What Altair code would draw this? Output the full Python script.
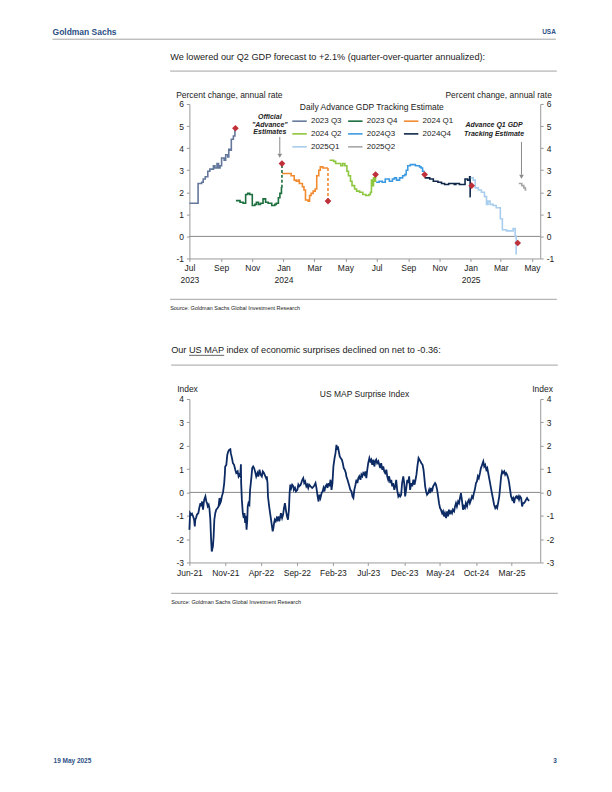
import altair as alt
import pandas as pd

FONT = "Liberation Sans"
INK = "#222222"
RULE = "#a3a3a3"
AXIS = "#9a9a9a"
BRAND = "#2b4f85"

# ---------------- Chart 1: Daily Advance GDP Tracking Estimate ----------------
series_names = ["2023 Q3", "2023 Q4", "2024 Q1", "2024 Q2", "2024Q3", "2024Q4", "2025Q1", "2025Q2"]
series_colors = ["#64789b", "#1b6e3d", "#f28a30", "#8dc63f", "#3b9ae1", "#0f2748", "#a9cdee", "#a6a6a6"]

q3_2023_dates = ["2023-07-01", "2023-07-18", "2023-07-25", "2023-07-28", "2023-08-01", "2023-08-06",
                 "2023-08-10", "2023-08-17", "2023-08-20", "2023-08-24", "2023-08-27", "2023-08-30",
                 "2023-09-02", "2023-09-07", "2023-09-10", "2023-09-14", "2023-09-16", "2023-09-18",
                 "2023-09-21", "2023-09-25", "2023-09-28", "2023-09-29"]
q3_2023_vals = [1.5, 2.4, 2.45, 2.6, 2.7, 2.95, 3.05, 3.2, 3.1, 3.3, 3.1, 3.2, 3.55, 3.45, 3.7, 3.6,
                3.95, 3.9, 4.4, 4.55, 4.8, 4.8]

q4_2023_dates = ["2023-09-30", "2023-10-08", "2023-10-14", "2023-10-19", "2023-10-23", "2023-10-27",
                 "2023-11-01", "2023-11-06", "2023-11-09", "2023-11-13", "2023-11-17", "2023-11-22",
                 "2023-11-27", "2023-12-02", "2023-12-09", "2023-12-15", "2023-12-18", "2023-12-22",
                 "2023-12-25", "2023-12-28", "2023-12-29"]
q4_2023_vals = [1.62, 1.55, 1.5, 1.9, 1.95, 1.9, 1.4, 1.45, 1.55, 1.45, 1.5, 1.7, 1.55, 1.5, 1.4, 1.45,
                1.5, 1.75, 1.95, 2.2, 2.2]

q1_2024_dates = ["2023-12-29", "2024-01-16", "2024-01-22", "2024-01-26", "2024-01-30", "2024-02-01",
                 "2024-02-07", "2024-02-10", "2024-02-13", "2024-02-18", "2024-02-21", "2024-02-24",
                 "2024-02-28", "2024-03-03", "2024-03-06", "2024-03-10", "2024-03-13", "2024-03-18",
                 "2024-03-28"]
q1_2024_vals = [2.85, 2.75, 2.55, 2.5, 2.55, 2.4, 2.25, 2.1, 1.65, 1.6, 1.85, 1.95, 2.05, 2.15, 2.75,
                3.0, 3.15, 3.1, 3.1]

q2_2024_dates = ["2024-03-31", "2024-04-08", "2024-04-12", "2024-04-18", "2024-04-22", "2024-04-26",
                 "2024-04-30", "2024-05-04", "2024-05-07", "2024-05-11", "2024-05-14", "2024-05-19",
                 "2024-05-23", "2024-05-29", "2024-06-04", "2024-06-10", "2024-06-16", "2024-06-19",
                 "2024-06-21", "2024-06-23", "2024-06-25", "2024-06-27", "2024-06-29", "2024-06-30"]
q2_2024_vals = [3.45, 3.4, 3.3, 3.3, 3.2, 3.3, 3.2, 2.95, 2.75, 2.5, 2.3, 2.15, 2.05, 2.0, 1.9, 1.85,
                1.9, 2.0, 2.55, 2.3, 2.65, 2.5, 2.7, 2.7]

q3_2024_dates = ["2024-06-30", "2024-07-06", "2024-07-12", "2024-07-18", "2024-07-26", "2024-08-01",
                 "2024-08-05", "2024-08-09", "2024-08-15", "2024-08-21", "2024-08-25", "2024-08-28",
                 "2024-08-31", "2024-09-05", "2024-09-10", "2024-09-15", "2024-09-20", "2024-09-23",
                 "2024-09-26", "2024-09-29", "2024-10-03"]
q3_2024_vals = [2.45, 2.5, 2.45, 2.6, 2.5, 2.6, 2.65, 2.55, 2.65, 2.75, 2.8, 3.0, 3.2, 3.25, 3.25, 3.2,
                3.2, 3.15, 3.1, 2.95, 2.95]

q4_2024_dates = ["2024-10-03", "2024-10-13", "2024-10-20", "2024-10-29", "2024-11-05", "2024-11-11",
                 "2024-11-19", "2024-11-24", "2024-11-30", "2024-12-03", "2024-12-10", "2024-12-16",
                 "2024-12-21", "2024-12-26", "2024-12-30", "2024-12-31", "2025-01-01"]
q4_2024_vals = [2.65, 2.6, 2.5, 2.45, 2.4, 2.35, 2.4, 2.4, 2.35, 2.4, 2.35, 2.35, 2.6, 2.55, 2.7, 1.8, 1.8]

q1_2025_dates = ["2025-01-01", "2025-01-06", "2025-01-10", "2025-01-16", "2025-01-22", "2025-01-28",
                 "2025-02-01", "2025-02-04", "2025-02-08", "2025-02-14", "2025-02-20", "2025-02-26",
                 "2025-02-28", "2025-03-04", "2025-03-12", "2025-03-22", "2025-03-25", "2025-03-29",
                 "2025-03-31", "2025-04-01"]
q1_2025_vals = [2.65, 2.55, 2.2, 2.1, 2.0, 1.8, 1.45, 1.6, 1.45, 1.4, 1.3, 1.3, 0.8, 0.3, 0.25, 0.25,
                0.35, 0.0, -0.8, -0.8]

q2_2025_dates = ["2025-04-05", "2025-04-09", "2025-04-11", "2025-04-15", "2025-04-18", "2025-04-20"]
q2_2025_vals = [2.4, 2.4, 2.3, 2.2, 2.1, 2.1]

series_dates = [q3_2023_dates, q4_2023_dates, q1_2024_dates, q2_2024_dates,
                q3_2024_dates, q4_2024_dates, q1_2025_dates, q2_2025_dates]
series_values = [q3_2023_vals, q4_2023_vals, q1_2024_vals, q2_2024_vals,
                 q3_2024_vals, q4_2024_vals, q1_2025_vals, q2_2025_vals]

official_dates = ["2023-09-29", "2023-12-29", "2024-03-28", "2024-06-29", "2024-10-03", "2025-01-03", "2025-04-03"]
official_values = [4.9, 3.3, 1.6, 2.8, 2.8, 2.3, -0.3]

connector_dates = ["2023-12-29", "2024-03-28"]
connector_series = ["2023 Q4", "2024 Q1"]
connector_from = [2.2, 3.1]
connector_to = [3.3, 1.6]

y1_ticks = [-1, 0, 1, 2, 3, 4, 5, 6]
x1_ticks = [(2023, 7), (2023, 9), (2023, 11), (2024, 1), (2024, 3), (2024, 5), (2024, 7),
            (2024, 9), (2024, 11), (2025, 1), (2025, 3), (2025, 5)]

# ---------------- Chart 2: US MAP Surprise Index ----------------
# x: days since 2021-06-01
map_day = [0, 3, 7, 11, 16, 20, 23, 25, 28, 32,
           38, 42, 47, 49, 54, 58, 61, 63, 68, 72,
           75, 78, 82, 85, 89, 92, 95, 97, 100, 103,
           106, 110, 114, 120, 124, 128, 131, 134, 138, 143,
           148, 151, 152, 157, 161, 165, 169, 174, 176, 181,
           185, 190, 195, 199, 205, 209, 213, 216, 219, 220,
           223, 227, 231, 234, 237, 240, 243, 246, 248, 251,
           255, 258, 261, 264, 267, 271, 275, 279, 284, 289,
           293, 298, 303, 308, 312, 317, 322, 326, 329, 332,
           334, 339, 343, 347, 351, 354, 357, 360, 363, 367,
           371, 374, 378, 382, 385, 389, 394, 398, 402, 406,
           411, 415, 419, 423, 426, 429, 433, 437, 442, 444,
           449, 453, 459, 463, 467, 473, 480, 484, 488, 492,
           497, 501, 505, 509, 515, 522, 529, 536, 540, 545,
           549, 553, 557, 562, 566, 570, 574, 578, 583, 587,
           591, 595, 600, 604, 608, 612, 614, 617, 621, 625,
           628, 631, 635, 639, 643, 648, 652, 656, 660, 665,
           667, 672, 676, 680, 684, 689, 693, 697, 701, 706,
           710, 714, 718, 722, 727, 731, 735, 739, 744, 748,
           752, 756, 760, 765, 769, 773, 777, 782, 786, 790,
           794, 798, 803, 807, 811, 815, 820, 824, 828, 832,
           837, 841, 845, 849, 854, 858, 862, 866, 871, 875,
           879, 883, 888, 892, 896, 900, 904, 909, 913, 917,
           921, 926, 930, 934, 938, 943, 947, 952, 957, 961,
           965, 969, 974, 978, 982, 986, 991, 995, 998, 1002,
           1006, 1010, 1015, 1019, 1023, 1027, 1031, 1036, 1040, 1044,
           1048, 1053, 1057, 1061, 1065, 1069, 1074, 1078, 1082, 1086,
           1091, 1095, 1099, 1103, 1108, 1112, 1116, 1120, 1125, 1129,
           1133, 1137, 1142, 1146, 1150, 1154, 1158, 1163, 1167, 1171,
           1175, 1180, 1184, 1188, 1192, 1197, 1201, 1205, 1209, 1213,
           1218, 1222, 1226, 1230, 1235, 1239, 1242, 1246, 1249, 1253,
           1257, 1262, 1266, 1270, 1274, 1278, 1283, 1287, 1291, 1295,
           1300, 1304, 1308, 1312, 1317, 1321, 1325, 1329, 1333, 1338,
           1342, 1346, 1350, 1355, 1359, 1363, 1367, 1372, 1376, 1380,
           1384, 1389, 1393, 1397, 1401, 1405, 1410, 1414, 1418, 1422,
           1427, 1431, 1435, 1439, 1444]
map_value = [-1.6, -0.89, -0.96, -0.91, -1.03, -1.17, -1.46, -1.17, -1.1, -0.96,
             -0.89, -0.67, -0.46, -0.6, -0.39, -0.74, -0.46, -0.31, -0.17, -0.39,
             -0.46, -0.6, -0.53, -0.67, -1.17, -1.96, -2.53, -2.45, -2.31, -1.89,
             -1.17, -0.89, -0.74, -0.67, -0.6, -0.24, -0.46, -0.39, -0.17, 0.0,
             0.4, 0.83, 1.1, 1.18, 1.6, 1.75, 1.82, 1.85, 1.68, 1.47,
             1.25, 1.18, 0.97, 0.83, 0.9, 0.68, 0.76, 0.7, 1.2, 0.4,
             -0.31, -0.89, -1.1, -0.89, -1.31, -1.0, -1.6, -1.17, -0.6, -0.46,
             -0.53, 0.11, 0.4, 0.69, 1.04, 1.11, 1.04, 0.9, 0.68, 0.83,
             0.68, 0.97, 0.75, 0.68, 0.9, 0.83, 0.71, 0.61, 0.69, 0.4,
             -0.17, -0.6, -0.89, -1.17, -1.46, -1.67, -1.53, -1.31, -1.17, -1.24,
             -1.1, -1.17, -1.03, -1.24, -1.1, -0.89, -1.1, -0.96, -0.67, -0.46,
             -0.81, -1.03, -1.17, -0.74, -0.03, 0.33, 0.19, 0.33, 0.26, 0.11,
             0.19, 0.04, 0.11, 0.33, 0.26, 0.33, 0.54, 0.61, 0.4, 0.47,
             0.26, 0.33, 0.19, 0.33, 0.26, 0.19, 0.26, 0.4, 0.19, -0.17,
             -0.39, -0.1, -0.24, -0.03, 0.04, 0.19, 0.04, 0.26, 0.33, 0.19,
             0.4, 0.26, 0.54, 0.11, 0.4, 1.1, 1.25, 1.47, 1.68, 2.04,
             1.82, 1.97, 1.75, 1.54, 1.47, 1.4, 1.25, 1.04, 0.97, 0.83,
             0.69, 0.54, 0.4, 0.26, 0.11, 0.04, -0.17, -0.24, 0.11, 0.33,
             0.54, 0.4, 0.61, 0.69, 0.54, 0.76, 0.69, 0.83, 0.76, 0.9,
             0.61, 0.97, 1.25, 1.47, 1.33, 1.4, 1.18, 1.4, 1.11, 1.33,
             1.4, 1.25, 1.33, 1.18, 1.04, 1.25, 0.97, 1.11, 0.9, 0.83,
             0.97, 0.68, 0.54, 0.69, 0.4, 0.54, 0.26, 0.4, 0.11, 0.26,
             0.54, 0.11, -0.17, -0.1, -0.17, -0.1, 0.4, 0.69, 0.4, -0.17,
             0.11, 0.54, 0.4, 0.69, 0.11, 0.4, 0.26, 0.54, 0.33, 0.54,
             0.76, 1.11, 1.47, 1.4, 1.33, 1.25, 1.18, 0.97, 0.69, 0.26,
             0.04, -0.1, -0.03, 0.11, -0.03, 0.19, 0.04, 0.26, 0.33, 0.4,
             0.33, 0.11, -0.17, -0.46, -0.67, -0.74, -0.89, -0.81, -1.03, -0.89,
             -1.1, -0.81, -1.03, -0.74, -0.89, -0.81, -0.89, -0.74, -0.81, -0.6,
             -0.46, -0.6, -0.39, -0.46, -0.24, -0.03, -0.31, -0.74, -0.6, -0.67,
             -0.46, -0.6, -0.39, -0.31, -0.46, -0.31, -0.17, -0.24, -0.03, 0.11,
             0.4, 0.47, 0.69, 0.61, 0.83, 1.04, 1.11, 1.25, 1.33, 1.11,
             1.18, 0.97, 1.04, 0.83, 0.61, 0.4, 0.11, -0.1, -0.31, -0.53,
             -0.67, -0.6, -0.67, -0.46, -0.17, 0.26, 0.69, 0.9, 0.83, 0.9,
             0.76, 0.83, 0.76, 0.61, 0.4, 0.11, -0.17, -0.31, -0.24, -0.46,
             -0.24, -0.17, -0.24, -0.17, -0.31, -0.17, -0.24, -0.6, -0.46, -0.46,
             -0.39, -0.31, -0.24, -0.31, -0.36]
y2_ticks = [-3, -2, -1, 0, 1, 2, 3, 4]
x2_ticks = [(2021, 6), (2021, 11), (2022, 4), (2022, 9), (2023, 2), (2023, 7),
            (2023, 12), (2024, 5), (2024, 10), (2025, 3)]

# ---------------- page layout (page pixel positions of the two plot areas) ----------------
P1 = (189.3, 103.0)
W1, H1 = 352, 155
P2 = (188.3, 399.0)
W2, H2 = 352, 164

HYPHEN_LABEL = "datum.value < 0 ? '-' + abs(datum.value) : '' + datum.value"


def text_at(off, s, x, y, size=8.5, weight="normal", style="normal", align="left", color=INK):
    return alt.Chart(pd.DataFrame({"t": [s]})).mark_text(
        font=FONT, fontSize=size, fontWeight=weight, fontStyle=style, align=align,
        baseline="middle", color=color
    ).encode(x=alt.value(x - off[0]), y=alt.value(y - off[1]), text="t:N")


def hrule(off, x1, x2, y, color=RULE, w=1.0):
    return alt.Chart(pd.DataFrame({"a": [0]})).mark_rule(color=color, strokeWidth=w).encode(
        x=alt.value(x1 - off[0]), x2=alt.value(x2 - off[0]), y=alt.value(y - off[1]))


def vrule(off, x, y1, y2, color="#8a8a8a", w=1.0):
    return alt.Chart(pd.DataFrame({"a": [0]})).mark_rule(color=color, strokeWidth=w).encode(
        x=alt.value(x - off[0]), y=alt.value(y1 - off[1]), y2=alt.value(y2 - off[1]))


def arrow_head(off, x, y, color="#8a8a8a"):
    return alt.Chart(pd.DataFrame({"a": [0]})).mark_point(
        shape="triangle-down", filled=True, size=22, color=color, opacity=1
    ).encode(x=alt.value(x - off[0]), y=alt.value(y - off[1]))


def frame(off, x1, x2, y1, y2):
    return alt.Chart(pd.DataFrame({"a": [0]})).mark_rect(opacity=0, color="white").encode(
        x=alt.value(x1 - off[0]), x2=alt.value(x2 - off[0]),
        y=alt.value(y1 - off[1]), y2=alt.value(y2 - off[1]))


def dt(y, m, d=1):
    return alt.DateTime(year=y, month=m, date=d, utc=True)


# ---------------- build chart 1 ----------------
gdp = pd.concat([pd.DataFrame({"series": n, "date": d, "value": v})
                 for n, d, v in zip(series_names, series_dates, series_values)])
official = pd.DataFrame({"date": official_dates, "value": official_values})
color_of = dict(zip(series_names, series_colors))
conn = pd.DataFrame({"date": connector_dates, "from": connector_from, "to": connector_to,
                     "hex": [color_of[s] for s in connector_series]})

yscale1 = alt.Scale(domain=[-1, 6], nice=False, zero=False)
xscale1 = alt.Scale(type="utc", domain=[dt(2023, 7, 1), dt(2025, 5, 17)])
x1_axis = alt.Axis(
    values=[dt(y, m) for y, m in x1_ticks], title=None, labelFlush=False, labelOverlap=False,
    labelExpr="(utcFormat(datum.value, '%m') == '01' || utcFormat(datum.value, '%Y-%m') == '2023-07')"
              " ? [utcFormat(datum.value, '%b'), utcFormat(datum.value, '%Y')] : utcFormat(datum.value, '%b')",
    labelLineHeight=12, labelPadding=2)
X1 = alt.X("date:T", scale=xscale1, axis=x1_axis)
left1 = alt.Axis(orient="left", values=y1_ticks, title=None, labelPadding=3, labelExpr=HYPHEN_LABEL)
right1 = alt.Axis(orient="right", values=y1_ticks, title=None, labelPadding=3, labelExpr=HYPHEN_LABEL)

legend = alt.Legend(
    title="Daily Advance GDP Tracking Estimate", orient="none", legendX=102, legendY=-1,
    direction="horizontal", columns=3, symbolType="stroke", symbolSize=210, symbolStrokeWidth=1.6,
    labelFont=FONT, labelFontSize=8, labelColor=INK, labelOffset=3, labelLimit=80,
    titleFont=FONT, titleFontSize=8.5, titleFontWeight="normal", titleColor=INK,
    titleAnchor="middle", titleAlign="center", titlePadding=1, rowPadding=-1,
    columnPadding=3, padding=0)

zero1 = alt.Chart(pd.DataFrame({"value": [0]})).mark_rule(color="#8a8a8a", strokeWidth=1).encode(
    y=alt.Y("value:Q", scale=yscale1, axis=right1))
lines1 = alt.Chart(gdp).mark_line(interpolate="step-after", strokeWidth=1.6).encode(
    x=X1, y=alt.Y("value:Q", scale=yscale1, axis=left1),
    color=alt.Color("series:N", scale=alt.Scale(domain=series_names, range=series_colors), legend=legend))
conn1 = alt.Chart(conn).mark_rule(strokeDash=[3, 2], strokeWidth=1.6).encode(
    x=X1, y=alt.Y("from:Q", scale=yscale1, axis=None), y2="to:Q", color=alt.Color("hex:N", scale=None))
dia1 = alt.Chart(official).mark_point(shape="diamond", filled=True, size=45, color="#c0303a", opacity=1).encode(
    x=X1, y=alt.Y("value:Q", scale=yscale1, axis=None))

o = P1
deco1 = [
    frame(o, 8, 604, 8, 325),
    text_at(o, "Goldman Sachs", 52, 31, size=8.5, weight="bold", color=BRAND),
    text_at(o, "USA", 557, 31, size=6.5, weight="bold", align="right", color=BRAND),
    hrule(o, 52, 557, 38),
    text_at(o, "We lowered our Q2 GDP forecast to +2.1% (quarter-over-quarter annualized):", 170, 56, size=9.2),
    hrule(o, 170, 558, 70),
    text_at(o, "Percent change, annual rate", 176, 94.5, size=8.5),
    text_at(o, "Percent change, annual rate", 553, 94.5, size=8.5, align="right"),
    text_at(o, "Official", 270, 116, size=7, weight="bold", style="italic", align="center"),
    text_at(o, "\"Advance\"", 270, 123.8, size=7, weight="bold", style="italic", align="center"),
    text_at(o, "Estimates", 270, 131.6, size=7, weight="bold", style="italic", align="center"),
    vrule(o, 280, 136, 153),
    arrow_head(o, 280, 155),
    text_at(o, "Advance Q1 GDP", 495, 124.3, size=7, weight="bold", style="italic", align="center"),
    text_at(o, "Tracking Estimate", 495, 132.7, size=7, weight="bold", style="italic", align="center"),
    vrule(o, 522.5, 141, 174),
    arrow_head(o, 522.5, 176),
    hrule(o, 170, 558, 299),
    text_at(o, "Source: Goldman Sachs Global Investment Research", 170, 307.5, size=5.5),
]

chart1 = alt.layer(zero1, lines1, conn1, dia1, *deco1).resolve_axis(y="independent").properties(
    width=W1, height=H1)

# ---------------- build chart 2 ----------------
base_day = pd.Timestamp("2021-06-01")
mapdf = pd.DataFrame({
    "date": [(base_day + pd.Timedelta(days=d)).strftime("%Y-%m-%d") for d in map_day],
    "value": map_value})

yscale2 = alt.Scale(domain=[-3, 4], nice=False, zero=False)
xscale2 = alt.Scale(type="utc", domain=[dt(2021, 6, 1), dt(2025, 7, 1)])
x2_axis = alt.Axis(values=[dt(y, m) for y, m in x2_ticks], title=None, labelFlush=False,
                   labelOverlap=False, labelExpr="utcFormat(datum.value, '%b-%y')", labelPadding=3)
left2 = alt.Axis(orient="left", values=y2_ticks, title=None, labelPadding=3, labelExpr=HYPHEN_LABEL)
right2 = alt.Axis(orient="right", values=y2_ticks, title=None, labelPadding=3, labelExpr=HYPHEN_LABEL)

zero2 = alt.Chart(pd.DataFrame({"value": [0]})).mark_rule(color="#8a8a8a", strokeWidth=1).encode(
    y=alt.Y("value:Q", scale=yscale2, axis=right2))
line2 = alt.Chart(mapdf).mark_line(color="#0c2a63", strokeWidth=1.8).encode(
    x=alt.X("date:T", scale=xscale2, axis=x2_axis),
    y=alt.Y("value:Q", scale=yscale2, axis=left2))

o = P2
deco2 = [
    frame(o, 8, 604, 325, 784),
    text_at(o, "Our US MAP index of economic surprises declined on net to -0.36:", 170, 350, size=9.2),
    hrule(o, 187.9, 223.2, 355.2, color=INK, w=0.7),
    hrule(o, 170, 558, 365),
    text_at(o, "Index", 176, 389, size=8.5),
    text_at(o, "Index", 553, 389, size=8.5, align="right"),
    text_at(o, "US MAP Surprise Index", 364, 394.5, size=8.5, align="center"),
    hrule(o, 170, 558, 594),
    text_at(o, "Source: Goldman Sachs Global Investment Research", 170, 602.5, size=5.5),
    text_at(o, "19 May 2025", 52, 762, size=6.5, weight="bold", color=BRAND),
    text_at(o, "3", 557, 762, size=6.5, weight="bold", align="right", color=BRAND),
]

chart2 = alt.layer(zero2, line2, *deco2).resolve_axis(y="independent").properties(width=W2, height=H2)

page = alt.vconcat(chart1, chart2, spacing=0, padding=0).configure(
    font=FONT, background="white"
).configure_view(stroke=None).configure_axis(
    labelFont=FONT, labelFontSize=8.5, labelColor=INK, domainColor=AXIS, tickColor=AXIS,
    tickSize=3, grid=False, domainWidth=1, tickWidth=1
)

page.save("out.html", embed_options={"renderer": "svg", "actions": False})
